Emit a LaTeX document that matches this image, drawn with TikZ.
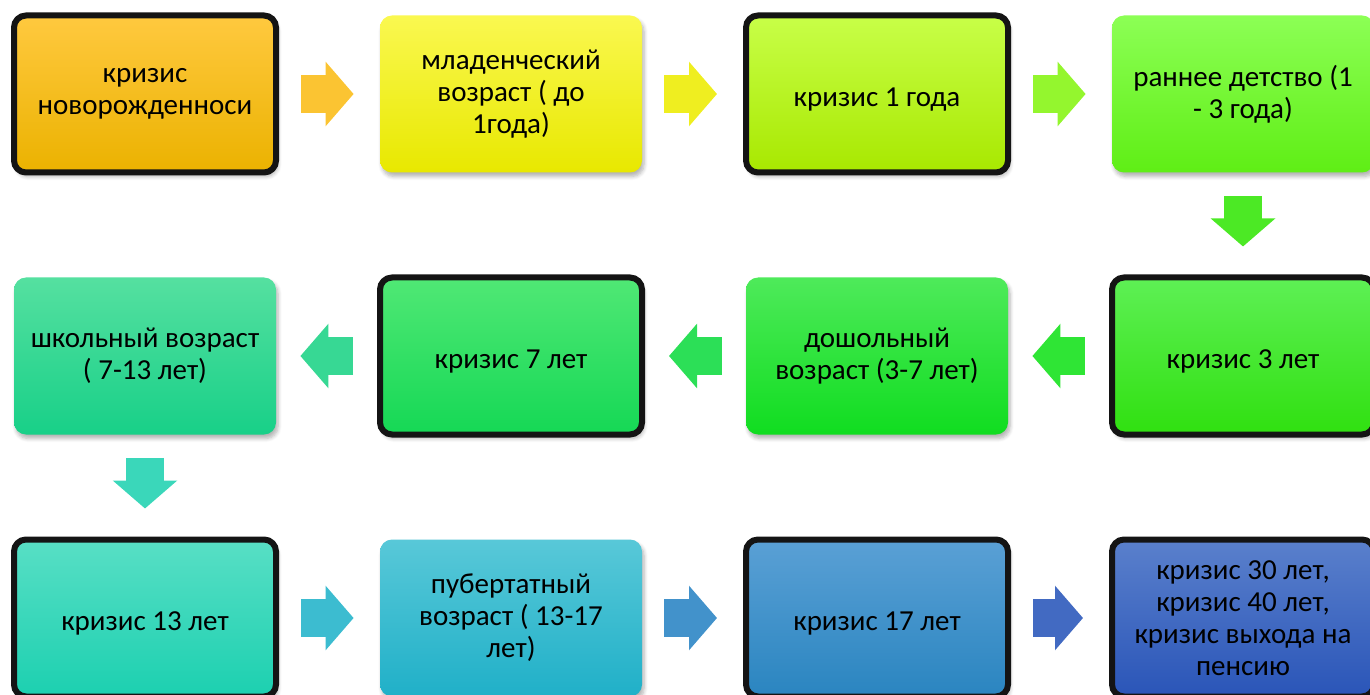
\documentclass[tikz,border=0pt]{standalone}
\usepackage{fontspec}
\setmainfont{Carlito}
\usetikzlibrary{arrows.meta,calc,shadows.blur}

\definecolor{orangeT}{HTML}{FFC93F}\definecolor{orangeB}{HTML}{EBB200}
\definecolor{yellowT}{HTML}{FAF850}\definecolor{yellowB}{HTML}{E8E800}
\definecolor{limeT}{HTML}{C8FF48}\definecolor{limeB}{HTML}{A8E800}
\definecolor{lgreenT}{HTML}{8CFF55}\definecolor{lgreenB}{HTML}{5FEE15}
\definecolor{greenT}{HTML}{5EF055}\definecolor{greenB}{HTML}{30E010}
\definecolor{mgreenT}{HTML}{4EEA5A}\definecolor{mgreenB}{HTML}{10DD20}
\definecolor{jadeT}{HTML}{50E875}\definecolor{jadeB}{HTML}{15D855}
\definecolor{mintT}{HTML}{55E0A0}\definecolor{mintB}{HTML}{18D088}
\definecolor{tealT}{HTML}{58DFC5}\definecolor{tealB}{HTML}{1CD0B0}
\definecolor{cyanT}{HTML}{58C8D8}\definecolor{cyanB}{HTML}{20B0C8}
\definecolor{skyT}{HTML}{5AA0D5}\definecolor{skyB}{HTML}{2A85C0}
\definecolor{blueT}{HTML}{5A80CC}\definecolor{blueB}{HTML}{2A55B8}

\tikzset{
  stage/.style={rounded corners=6pt, minimum width=131pt, minimum height=78.5pt,
    align=center, font=\fontsize{14.5pt}{16pt}\selectfont,
    execute at begin node={\rule{0pt}{15pt}},
    blur shadow={shadow xshift=1pt, shadow yshift=-2pt, shadow opacity=30, shadow blur steps=6}},
  crisis/.style={stage, draw=black!92, line width=3pt},
  flow/.style={line width=19pt, -{Triangle[length=14pt,width=31.5pt]}},
}

\begin{document}
\begin{tikzpicture}[x=0.5pt,y=-0.5pt]
    \useasboundingbox (0,0) rectangle (1370,695);
    %% first row
    \node[crisis, top color=orangeT, bottom color=orangeB] (newborn) at (145,94) {кризис\\новорожденноси};
    \node[stage, top color=yellowT, bottom color=yellowB] (infant) at (511,94) {младенческий\\возраст ( до\\1года)};
    \node[crisis, top color=limeT, bottom color=limeB] (year1) at (877,94) {кризис 1 года};
    \node[stage, top color=lgreenT, bottom color=lgreenB] (early) at (1243,94) {раннее детство (1\\- 3 года)};
    %% second row
    \node[crisis, top color=greenT, bottom color=greenB] (years3) at (1243,356) {кризис 3 лет};
    \node[stage, top color=mgreenT, bottom color=mgreenB] (preschool) at (877,356) {дошольный\\возраст (3-7 лет)};
    \node[crisis, top color=jadeT, bottom color=jadeB] (years7) at (511,356) {кризис 7 лет};
    \node[stage, top color=mintT, bottom color=mintB] (school) at (145,356) {школьный возраст\\( 7-13 лет)};
    %% third row
    \node[crisis, top color=tealT, bottom color=tealB] (years13) at (145,618) {кризис 13 лет};
    \node[stage, top color=cyanT, bottom color=cyanB] (puberty) at (511,618) {пубертатный\\возраст ( 13-17\\лет)};
    \node[crisis, top color=skyT, bottom color=skyB] (years17) at (877,618) {кризис 17 лет};
    \node[crisis, top color=blueT, bottom color=blueB] (adult) at (1243,618) {кризис 30 лет,\\кризис 40 лет,\\кризис выхода на\\пенсию};

    %% arrows
    \draw[flow, draw=orangeT!80!orangeB] ($(newborn.east)+(22,0)$) -- ($(infant.west)+(-26,0)$);
    \draw[flow, draw=yellowT!40!yellowB] ($(infant.east)+(22,0)$) -- ($(year1.west)+(-26,0)$);
    \draw[flow, draw=limeT!50!lgreenB] ($(year1.east)+(22,0)$) -- ($(early.west)+(-26,0)$);
    \draw[flow, draw=lgreenT!30!greenB] ($(early.south)+(0,23)$) -- ($(years3.north)+(0,-28)$);
    \draw[flow, draw=greenT!40!mgreenB] ($(years3.west)+(-24,0)$) -- ($(preschool.east)+(24,0)$);
    \draw[flow, draw=mgreenT!40!jadeB] ($(preschool.west)+(-24,0)$) -- ($(years7.east)+(24,0)$);
    \draw[flow, draw=mintT!50!mintB] ($(years7.west)+(-24,0)$) -- ($(school.east)+(24,0)$);
    \draw[flow, draw=tealT!50!tealB] ($(school.south)+(0,23)$) -- ($(years13.north)+(0,-28)$);
    \draw[flow, draw=cyanT!50!cyanB] ($(years13.east)+(22,0)$) -- ($(puberty.west)+(-26,0)$);
    \draw[flow, draw=skyT!50!skyB] ($(puberty.east)+(22,0)$) -- ($(years17.west)+(-26,0)$);
    \draw[flow, draw=blueT!50!blueB] ($(years17.east)+(22,0)$) -- ($(adult.west)+(-26,0)$);
\end{tikzpicture}
\end{document}
